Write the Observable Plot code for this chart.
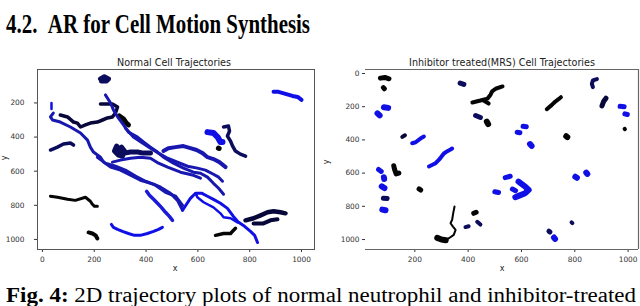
<!DOCTYPE html>
<html><head><meta charset="utf-8">
<script src="https://cdn.jsdelivr.net/npm/d3@7"></script>
<script src="https://cdn.jsdelivr.net/npm/@observablehq/plot@0.6"></script>
<style>
html,body{margin:0;padding:0;background:#fff;}
#page{position:relative;width:640px;height:306px;overflow:hidden;background:#fff;}
.abs{position:absolute;white-space:nowrap;line-height:1;}
.serif{font-family:"Liberation Serif","Times New Roman",serif;color:#000;}
.sans{font-family:"DejaVu Sans",sans-serif;color:#222;}
#left,#right{position:absolute;top:50px;}
#left{left:0;} #right{left:320px;}
</style></head>
<body><div id="page">
<div id="heading" class="abs serif" style="left:6px;top:10px;font-size:28px;font-weight:bold;transform-origin:0 0;">4.2.&nbsp;&nbsp;AR for Cell Motion Synthesis</div>
<div id="left"></div>
<div id="right"></div>
<div class="abs sans" style="left:174px;top:58px;font-size:9.6px;transform:translateX(-50%);">Normal Cell Trajectories</div>
<div class="abs sans" style="left:502px;top:58px;font-size:9.6px;transform:translateX(-50%);">Inhibitor treated(MRS) Cell Trajectories</div>
<div class="abs sans" style="left:175px;top:265px;font-size:8px;transform:translateX(-50%);">x</div>
<div class="abs sans" style="left:502px;top:265px;font-size:8px;transform:translateX(-50%);">x</div>
<div class="abs sans" style="left:3px;top:154px;font-size:8px;transform:rotate(-90deg);">y</div>
<div class="abs sans" style="left:325px;top:158px;font-size:8px;transform:rotate(-90deg);">y</div>
<div id="caption" class="abs serif" style="left:6px;top:285px;font-size:20px;transform-origin:0 0;"><b>Fig. 4:</b> 2D trajectory plots of normal neutrophil and inhibitor-treated</div>
</div>
<script>
// ---------- tick labels ----------
const normalXTicks = [0, 200, 400, 600, 800, 1000];
const normalYTicks = [200, 400, 600, 800, 1000];
const mrsXTicks = [200, 400, 600, 800, 1000];
const mrsYTicks = [0, 200, 400, 600, 800, 1000];

// ---------- Normal cell trajectories: [x, y] points ----------
const nBlob  = [[224,59],[239,47],[255,59],[247,71],[228,71]];
const nTick  = [[35,200],[35,235]];
const nLong1 = [[42,259],[31,282],[39,300],[69,312],[108,341],[147,376],[174,418],[185,459],[197,488],[224,518],[236,547],[263,576],[301,594],[340,624],[378,653],[405,665],[429,676],[456,694],[494,729],[521,771],[541,829]];
const nLong2 = [[541,829],[556,794],[571,759],[591,729],[614,729],[637,747],[660,765],[687,788],[714,818],[737,865],[757,900],[780,923],[803,953],[819,976],[830,1018]];
const nLoop  = [[591,729],[598,753],[622,782],[660,812],[687,847],[699,870],[726,876],[753,900]];
const nD     = [[212,518],[243,553],[282,571],[320,594],[359,629],[398,659],[436,682],[475,724],[514,747],[541,800]];
const nE     = [[69,271],[97,282],[120,312],[135,318],[147,341],[166,329],[185,318],[212,312],[232,300],[251,288],[270,282],[282,259],[290,224],[270,206],[243,206],[224,206]];
const nE2    = [[297,276],[313,294],[324,318],[332,329]];
const nF     = [[243,153],[263,200],[274,241],[293,288],[313,329],[332,371],[367,400],[390,429],[417,459],[444,488],[467,518],[506,553],[544,582],[583,606],[610,612],[637,635],[660,671],[680,700],[699,735]];
const nG     = [[320,347],[351,400],[386,435],[417,465],[448,494],[483,524],[521,547],[560,571],[598,582],[629,594],[660,618],[680,635],[695,659]];
const nH     = [[31,476],[58,459],[81,441],[108,435],[120,447]];
const nI     = [[286,453],[278,482],[293,506],[309,512],[317,482],[305,459],[293,471],[300,490],[317,494],[340,488],[367,488],[390,494],[417,494]];
const nJ     = [[467,482],[486,465],[514,459],[544,453],[571,465],[595,476],[618,494],[637,518],[660,529],[683,547],[707,576]];
const nKblue = [[637,371],[660,376],[676,400],[687,429],[695,429]];
const nKnavy = [[699,341],[718,335],[722,365],[714,394],[726,424],[734,453],[745,482],[764,500],[784,512]];
const nKdot  = [[679,465],[682,467]];
const nM     = [[892,135],[911,135],[938,147],[965,159],[985,165],[1000,182]];
const nO     = [[402,718],[413,741],[429,765],[444,788],[459,812],[475,841],[490,865],[502,888]];
const nP     = [[266,912],[274,929],[290,941],[309,953],[332,965],[355,976],[378,976],[405,965],[429,953],[448,941],[463,929]];
const nQ     = [[31,747],[58,753],[97,765],[127,771],[166,753],[185,776],[193,794],[201,806],[212,806]];
const nR     = [[178,959],[193,965],[205,976],[212,994]];
const nS     = [[668,976],[699,965],[726,965],[737,947],[745,935]];
const nT     = [[784,888],[815,876],[842,859],[869,841],[892,835],[919,841],[938,847]];
const nT2    = [[815,906],[853,906],[880,888],[907,882]];
const nU     = [[270,547],[301,535],[340,524],[378,518],[417,524],[448,553],[483,576],[533,606],[583,624],[610,641]];

// ---------- Inhibitor treated (MRS) trajectories ----------
const m01 = [[71,28],[88,24],[103,32]];
const m02 = [[82,85],[86,92]];
const m03 = [[84,203],[100,207]];
const m04 = [[60,240],[68,252]];
const m05 = [[153,382],[163,372]];
const m06 = [[190,420],[203,414],[221,392],[234,380]];
const m07 = [[253,560],[266,550],[278,540],[290,520],[298,505],[309,482],[322,468],[334,458],[340,452]];
const m08 = [[64,578],[74,590]];
const m09 = [[84,625],[85,635]];
const m10 = [[76,680],[86,690]];
const m11 = [[82,751],[96,753]];
const m12 = [[78,820],[90,824]];
const m13 = [[121,556],[124,578],[130,605],[140,600]];
const m14 = [[216,695],[222,702]];
const m15 = [[370,58],[384,66]];
const m16 = [[416,175],[446,163],[473,151],[484,128],[490,108],[503,92],[529,78]];
const m16b = [[458,163],[477,181]];
const m17 = [[428,253],[446,265]];
const m17b = [[470,290],[475,305]];
const m18 = [[390,925],[402,920]];
const m19 = [[421,842],[430,836]];
const m20 = [[434,893],[446,910]];
const m21 = [[349,801],[344,841],[340,881],[334,902],[343,922],[353,942],[346,972],[328,992],[303,1002],[290,998]];
const m21b = [[284,990],[300,1000],[316,1004]];
const m22 = [[500,712],[514,717]];
const m23 = [[883,34],[868,42],[864,62],[868,82]];
const m24 = [[695,215],[714,189],[727,169],[739,155],[748,143]];
const m25 = [[902,195],[908,169],[917,149]];
const m26 = [[970,198],[985,200]];
const m27 = [[988,243],[997,247]];
const m28 = [[987,333],[988,336]];
const m29 = [[606,318],[618,321]];
const m30 = [[584,354],[594,357]];
const m31 = [[632,425],[638,436]];
const m32 = [[768,378],[772,383]];
const m33 = [[539,627],[558,619]];
const m35 = [[566,696],[578,706]];
const m36 = [[589,651],[614,681],[627,701],[614,721],[589,737],[577,745]];
const m37 = [[802,622],[808,628]];
const m38 = [[843,597],[847,605]];
const m39 = [[788,896],[791,901]];
const m40 = [[703,950],[707,955]];
const m41 = [[722,988],[726,996]];

// ---------- styles (kept apart from the data) ----------
const BLUE = "#1010e6", MID = "#1818b0", NAVY = "#0c0c5c", DARK = "#07073a", BLACK = "#050505";
const normalTracks = [nBlob,nTick,nLong1,nLong2,nLoop,nD,nE,nE2,nF,nG,nH,nI,nJ,nKblue,nKnavy,nKdot,nM,nO,nP,nQ,nR,nS,nT,nT2,nU];
const normalStroke = [NAVY,BLUE,MID,BLUE,BLUE,MID,DARK,BLACK,MID,MID,NAVY,NAVY,MID,BLUE,NAVY,BLACK,BLUE,"#1a1ad8",BLUE,BLACK,BLACK,BLACK,DARK,DARK,MID];
const normalWidth  = [5,2.5,3,3,2.5,3,3.5,5,3,3,3.5,5,4,6,3.5,5,4,3.5,3,3,4,3.5,4.5,4,3];

const mrsTracks = [m01,m02,m03,m04,m05,m06,m07,m08,m09,m10,m11,m12,m13,m14,m15,m16,m16b,m17,m17b,m18,m19,m20,m21,m21b,m22,m23,m24,m25,m26,m27,m28,m29,m30,m31,m32,m33,m35,m36,m37,m38,m39,m40,m41];
const mrsStroke = [BLACK,BLACK,BLUE,BLUE,DARK,BLUE,BLUE,BLUE,BLUE,BLUE,NAVY,BLUE,BLACK,BLACK,NAVY,BLACK,BLACK,NAVY,BLACK,NAVY,BLACK,NAVY,BLACK,BLACK,BLUE,NAVY,BLACK,DARK,BLUE,BLUE,BLACK,BLUE,BLUE,BLUE,BLACK,BLUE,BLUE,BLUE,BLUE,BLUE,NAVY,NAVY,BLUE];
const mrsWidth  = [5,5,6,6,4,4,4,5,6,6,5,6,5,5,5,4,4,5,6,4,5,4,2,6,5,4,4,5,5,5,4,5,5,6,6,5,5,6,6,6,4,5,6];

const trackMarks = (tracks, strokes, widths) => tracks.map((pts, i) =>
  Plot.line(pts, {x: d => d[0], y: d => d[1], stroke: strokes[i], strokeWidth: widths[i],
                  strokeLinecap: "round", strokeLinejoin: "round"}));

const baseStyle = {fontFamily: "DejaVu Sans", fontSize: "7.4px", color: "#333", background: "transparent", overflow: "visible"};

const left = Plot.plot({
  width: 318, height: 230,
  marginLeft: 37, marginRight: 4, marginTop: 19, marginBottom: 31,
  style: baseStyle,
  x: {domain: [-19, 1050], ticks: normalXTicks, tickFormat: "d", tickSize: 3, tickPadding: 4.5, label: null},
  y: {domain: [4, 1059], reverse: true, ticks: normalYTicks, tickFormat: "d", tickSize: 3, tickPadding: 10, label: null},
  marks: [
    ...trackMarks(normalTracks, normalStroke, normalWidth),
    Plot.frame({stroke: "#555"})
  ]
});
document.getElementById("left").append(left);

const right = Plot.plot({
  width: 320, height: 230,
  marginLeft: 45, marginRight: 2, marginTop: 19, marginBottom: 31,
  style: baseStyle,
  x: {domain: [15, 1039], ticks: mrsXTicks, tickFormat: "d", tickSize: 3, tickPadding: 4.5, label: null},
  y: {domain: [-24, 1060], reverse: true, ticks: mrsYTicks, tickFormat: "d", tickSize: 3, tickPadding: 3, label: null},
  marks: [
    ...trackMarks(mrsTracks, mrsStroke, mrsWidth),
    Plot.ruleY([-24, 1060], {stroke: "#666", strokeWidth: 1.2}),
    Plot.ruleX([1039], {stroke: "#666", strokeWidth: 1.2})
  ]
});
document.getElementById("right").append(right);

// fit the typeset lines to their measured extents in the figure
function fitWidth(id, target) {
  const el = document.getElementById(id);
  const w = el.getBoundingClientRect().width;
  el.style.transform = `scaleX(${target / w})`;
}
fitWidth("heading", 304);
fitWidth("caption", 630);
</script>
</body></html>
